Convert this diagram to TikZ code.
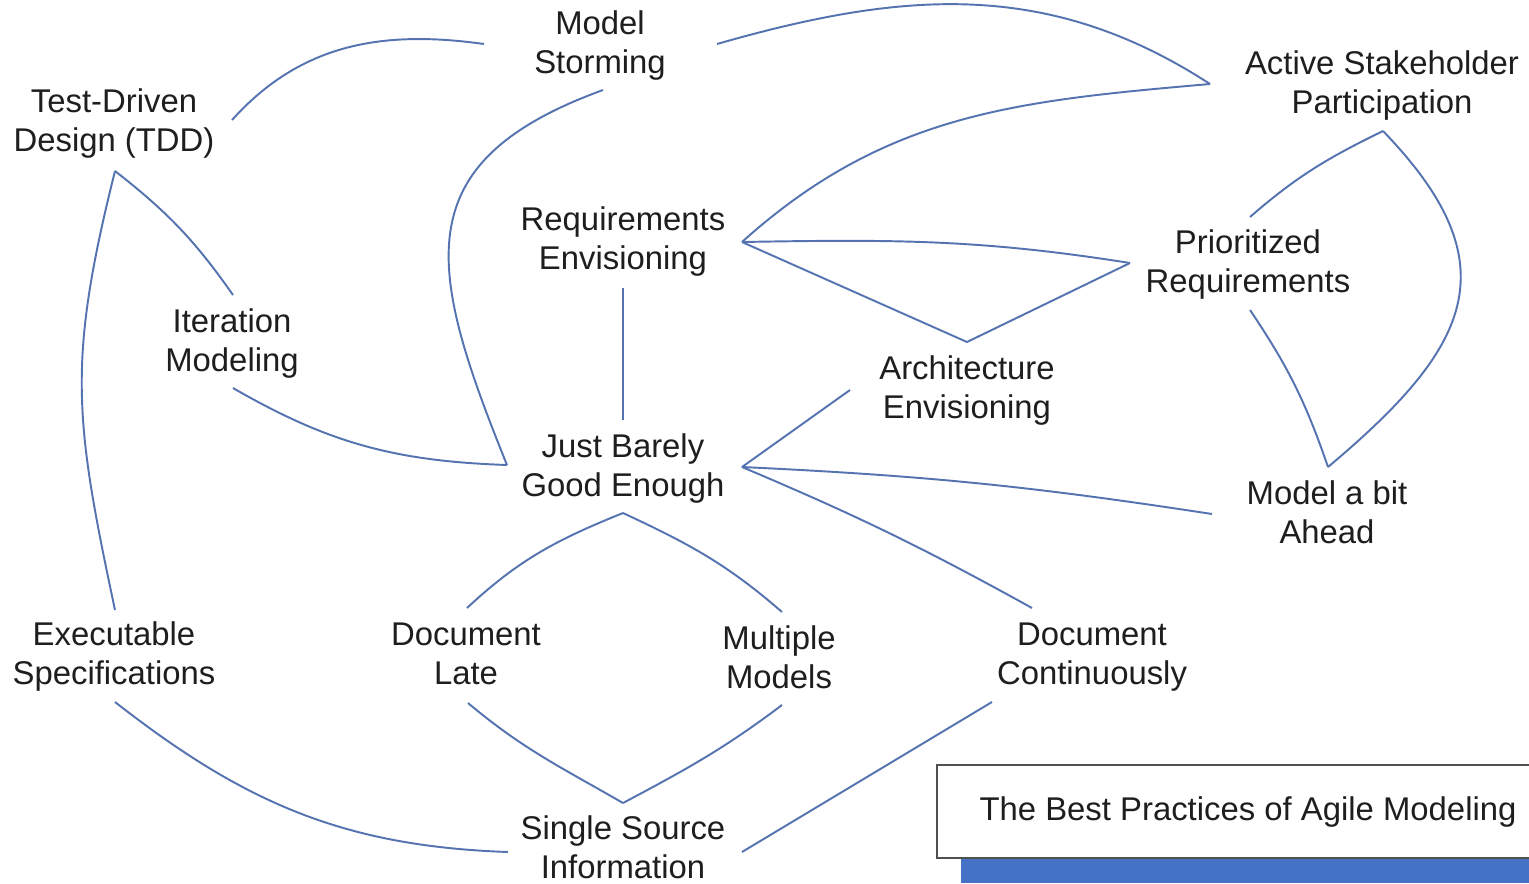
\documentclass[tikz,border=0pt]{standalone}
\usepackage{fontspec}
\setmainfont{Liberation Sans}
\usetikzlibrary{calc}
\definecolor{linkblue}{RGB}{84,115,176}
\definecolor{barblue}{RGB}{68,114,196}
\definecolor{boxgray}{RGB}{80,80,80}
\definecolor{inkgray}{RGB}{30,30,30}

\begin{document}
\begin{tikzpicture}[x=0.02cm, y=-0.02cm,
  practice/.style={align=center, inner sep=0pt, text=inkgray, font=\fontsize{18.7}{22.75}\selectfont},
  link/.style={draw=linkblue, line width=1.1pt}]
\fill[white] (0,0) rectangle (1529,883);
\useasboundingbox (0,0) rectangle (1529,883);
% the practices
\foreach \n/\x/\y/\lbl in {
  ms/600/46/{Model\\Storming},
  tdd/114/124/{Test-Driven\\Design (TDD)},
  asp/1382/86/{Active Stakeholder\\Participation},
  re/623/242/{Requirements\\Envisioning},
  pr/1248/265/{Prioritized\\Requirements},
  im/232/344/{Iteration\\Modeling},
  ae/967/391/{Architecture\\Envisioning},
  jb/623/469/{Just Barely\\Good Enough},
  mab/1327/516/{Model a bit\\Ahead},
  es/114/657/{Executable\\Specifications},
  dl/466/657/{Document\\Late},
  mm/779/661/{Multiple\\Models},
  dc/1092/657/{Document\\Continuously},
  ssi/623/851/{Single Source\\Information}}
 \node[practice] (\n) at (\x,\y) {\strut\lbl\strut};
% where the lines meet the practices
\foreach \p/\n/\dx/\dy in {
  tdd-ne/tdd/118/-4, tdd-s/tdd/1/47,
  ms-w/ms/-116/-2, ms-s/ms/3/44, ms-e/ms/117/-2,
  asp-w/asp/-172/-2, asp-s/asp/1/45,
  re-e/re/119/0, re-s/re/0/46,
  pr-w/pr/-118/-2, pr-n/pr/2/-48, pr-s/pr/2/45,
  im-n/im/1/-49, im-s/im/1/44,
  ae-n/ae/0/-49, ae-w/ae/-117/-1,
  jb-w/jb/-116/-4, jb-n/jb/0/-49, jb-e/jb/119/-2, jb-s/jb/0/44,
  mab-n/mab/1/-49, mab-w/mab/-115/-2,
  es-n/es/1/-47, es-s/es/1/45,
  dl-n/dl/1/-49, dl-s/dl/2/46,
  mm-n/mm/3/-49, mm-s/mm/3/44,
  dc-n/dc/-60/-49, dc-s/dc/-100/45,
  ssi-n/ssi/0/-48, ssi-w/ssi/-115/1, ssi-e/ssi/119/1}
 \coordinate (\p) at ($(\n)+(\dx,\dy)$);
\draw[link] (tdd-ne) to[out=48,in=172] (ms-w);
\draw[link] (ms-s) to[out=200,in=112,looseness=1.4] (jb-w);
\draw[link] (ms-e) to[out=16,in=147] (asp-w);
\draw[link] (re-e) to[out=42,in=185] (asp-w);
\draw[link] (re-e) to[out=1,in=171] (pr-w);
\draw[link] (re-e) -- (ae-n) -- (pr-w);
\draw[link] (asp-s) to[out=206,in=41] (pr-n);
\draw[link] (asp-s) to[out=-46,in=40,looseness=1.4] (mab-n);
\draw[link] (pr-s) to[out=-56,in=109] (mab-n);
\draw[link] (re-s) -- (jb-n);
\draw[link] (tdd-s) to[out=-38,in=125] (im-n);
\draw[link] (tdd-s) to[out=256,in=102,looseness=1.15] (es-n);
\draw[link] (im-s) to[out=-30,in=178] (jb-w);
\draw[link] (jb-e) -- (ae-w);
\draw[link] (jb-e) to[bend left=3] (mab-w);
\draw[link] (jb-e) to[bend left=3] (dc-n);
\draw[link] (jb-s) to[out=202,in=43] (dl-n);
\draw[link] (jb-s) to[out=-25,in=139] (mm-n);
\draw[link] (dl-s) to[out=-40,in=150] (ssi-n);
\draw[link] (mm-s) to[out=217,in=28] (ssi-n);
\draw[link] (es-s) to[out=-38,in=178] (ssi-w);
\draw[link] (dc-s) -- (ssi-e);
% title box
\fill[barblue] (961,858) rectangle (1545,883);
\draw[fill=white, draw=boxgray, line width=1pt] (937,765) rectangle (1545,858);
\node[practice] (title) at (1248,812) {\strut The Best Practices of Agile Modeling\strut};
\end{tikzpicture}
\end{document}
